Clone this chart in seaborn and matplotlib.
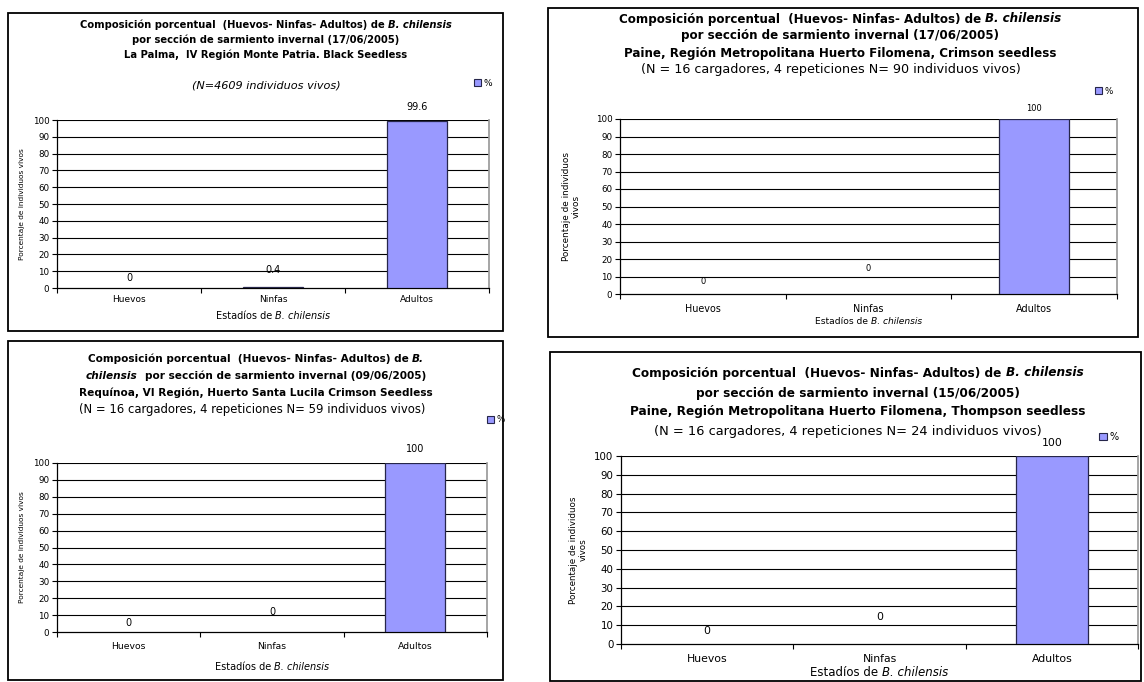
import matplotlib
matplotlib.use("Agg")
import matplotlib.pyplot as plt
import seaborn as sns
import pandas as pd
from matplotlib.patches import Rectangle, Patch

W, H = 1144, 682

# Data: percentage of live individuals per stage
categorias = ["Huevos", "Ninfas", "Adultos"]
la_palma = [0, 0.4, 99.6]
paine_crimson = [0, 0, 100]
requinoa = [0, 0, 100]
paine_thompson = [0, 0, 100]
y_ticks = list(range(0, 101, 10))

BAR = "#9999FF"
EDGE = "#26264a"

sns.set_theme(style="white")
plt.rcParams["font.family"] = ["DejaVu Sans"]
for k in ["text.color", "axes.labelcolor", "xtick.color", "ytick.color", "axes.edgecolor"]:
    plt.rcParams[k] = "black"

fig = plt.figure(figsize=(W / 100, H / 100), dpi=100)
renderer = fig.canvas.get_renderer()


def fx(x):
    return x / W


def fy(y):
    return 1 - y / H


def seg_width(s, size, weight, style):
    a = fig.text(0, 0, "|" + s + "|", fontsize=size, fontweight=weight, fontstyle=style)
    b = fig.text(0, 0, "||", fontsize=size, fontweight=weight, fontstyle=style)
    w = a.get_window_extent(renderer).width - b.get_window_extent(renderer).width
    a.remove()
    b.remove()
    return w


def rich_line(xc, y, parts, size, weight="normal"):
    """Draw one centred line made of (text, italic) pieces."""
    items = []
    total = 0
    for s, it in parts:
        style = "italic" if it else "normal"
        w = seg_width(s, size, weight, style)
        lead = len(s) - len(s.lstrip(" "))
        lead_w = seg_width(" " * lead, size, weight, style) if lead else 0
        items.append((s.strip(" "), style, total + lead_w))
        total += w
    x0 = xc - total / 2
    for s, style, off in items:
        if s:
            fig.text(fx(x0 + off), fy(y), s, fontsize=size, fontweight=weight,
                     fontstyle=style, ha="left", va="center")


def panel(values, box, axbox, titles, tsize, title_x, sub, sub_italic, sub_y, sub_size,
          leg_xy, leg_size, xtick_size, ytick_size, tick_pad, xlab_y, xlab_size,
          ylab_lines, ylab_x, ylab_size, label_offsets, label_size):
    # outer frame
    x0, y0, x1, y1 = box
    fig.add_artist(Rectangle((fx(x0), fy(y1)), (x1 - x0) / W, (y1 - y0) / H,
                             transform=fig.transFigure, fill=False,
                             ec="black", lw=1.3))

    # plot area
    l, r, t, b = axbox
    ax = fig.add_axes([fx(l), fy(b), (r - l) / W, (b - t) / H])
    df = pd.DataFrame({"estadio": categorias, "pct": values})
    sns.barplot(data=df, x="estadio", y="pct", ax=ax, color=BAR, saturation=1,
                width=0.42, edgecolor=EDGE, linewidth=0.9, zorder=3)
    for p in ax.patches:
        if p.get_height() == 0:
            p.set_linewidth(0)
    ax.set_xlim(-0.5, 2.5)
    ax.set_ylim(0, 100)
    ax.set_yticks(y_ticks)
    ax.set_yticklabels([str(v) for v in y_ticks])
    for v in y_ticks[1:]:
        ax.axhline(v, color="black", lw=0.8, zorder=1)
    ax.set_xticks([-0.5, 0.5, 1.5, 2.5], minor=True)
    ax.tick_params(axis="x", which="major", length=0, labelsize=xtick_size, pad=tick_pad)
    ax.tick_params(axis="x", which="minor", bottom=True, length=3.5, width=0.8,
                   direction="out", color="black")
    ax.tick_params(axis="y", left=True, length=3.5, width=0.8, direction="out",
                   labelsize=ytick_size, pad=2)
    ax.set_xlabel("")
    ax.set_ylabel("")
    ax.spines["top"].set_visible(False)
    ax.spines["right"].set_color("#9a9a9a")
    ax.spines["left"].set_linewidth(0.9)
    ax.spines["bottom"].set_linewidth(0.9)
    ax.patch.set_alpha(0)

    # value labels
    for i, (v, off) in enumerate(zip(values, label_offsets)):
        ax.text(i, v + off, f"{v:g}", ha="center", va="center",
                fontsize=label_size, clip_on=False)

    # titles
    for y, parts in titles:
        rich_line(title_x, y, parts, tsize, weight="bold")
    rich_line(sub[1], sub_y, [(sub[0], sub_italic)], sub_size)

    # legend
    fig.legend(handles=[Patch(facecolor=BAR, edgecolor=EDGE, lw=0.8)], labels=["%"],
               loc="center left", bbox_to_anchor=(fx(leg_xy[0]), fy(leg_xy[1])),
               frameon=False, fontsize=leg_size, handlelength=0.8, handleheight=0.8,
               handletextpad=0.3, borderpad=0, borderaxespad=0)

    # axis titles
    rich_line((l + r) / 2, xlab_y, [("Estadíos de ", False), ("B. chilensis", True)], xlab_size)
    fig.text(fx(ylab_x), fy((t + b) / 2), "\n".join(ylab_lines), rotation=90,
             ha="center", va="center", fontsize=ylab_size, linespacing=1.1,
             multialignment="center")
    return ax


head = "Composición porcentual  (Huevos- Ninfas- Adultos) de "
head_full = [(head, False), ("B. chilensis", True)]

panel(la_palma, box=(8, 13, 503, 331), axbox=(57, 489, 120, 288),
      titles=[(25, head_full),
              (40, [("por sección de sarmiento invernal (17/06/2005)", False)]),
              (55, [("La Palma,  IV Región Monte Patria. Black Seedless", False)])],
      tsize=7.2, title_x=266, sub=("(N=4609 individuos vivos)", 266), sub_italic=True,
      sub_y=85, sub_size=8.1, leg_xy=(474, 83), leg_size=6.5, xtick_size=6.5,
      ytick_size=6.3, tick_pad=5, xlab_y=316, xlab_size=7.0,
      ylab_lines=["Porcentaje de individuos vivos"], ylab_x=22, ylab_size=5.3,
      label_offsets=[6, 10.3, 8], label_size=7.0)

panel(paine_crimson, box=(548, 8, 1138, 337), axbox=(620, 1117, 119, 294),
      titles=[(19, head_full),
              (36, [("por sección de sarmiento invernal (17/06/2005)", False)]),
              (53, [("Paine, Región Metropolitana Huerto Filomena, Crimson seedless", False)])],
      tsize=8.6, title_x=840, sub=("(N = 16 cargadores, 4 repeticiones N= 90 individuos vivos)", 831),
      sub_italic=False, sub_y=70, sub_size=9.2, leg_xy=(1095, 91), leg_size=6.3,
      xtick_size=6.9, ytick_size=6.3, tick_pad=7, xlab_y=322, xlab_size=6.6,
      ylab_lines=["Porcentaje de individuos", "vivos"], ylab_x=571, ylab_size=6.4,
      label_offsets=[7.4, 14.8, 6], label_size=6.0)

panel(requinoa, box=(8, 341, 503, 680), axbox=(57, 487, 463, 632),
      titles=[(359, [(head, False), ("B.", True)]),
              (376, [("chilensis", True), ("  por sección de sarmiento invernal (09/06/2005)", False)]),
              (393, [("Requínoa, VI Región, Huerto Santa Lucila Crimson Seedless", False)])],
      tsize=7.6, title_x=256, sub=("(N = 16 cargadores, 4 repeticiones N= 59 individuos vivos)", 252),
      sub_italic=False, sub_y=410, sub_size=8.4, leg_xy=(487, 420), leg_size=6.3,
      xtick_size=6.7, ytick_size=6.3, tick_pad=7, xlab_y=667, xlab_size=7.0,
      ylab_lines=["Porcentaje de individuos vivos"], ylab_x=22, ylab_size=5.3,
      label_offsets=[5.3, 11.8, 8], label_size=7.0)

panel(paine_thompson, box=(550, 352, 1141, 681), axbox=(621, 1138, 456, 644),
      titles=[(373, head_full),
              (393, [("por sección de sarmiento invernal (15/06/2005)", False)]),
              (412, [("Paine, Región Metropolitana Huerto Filomena, Thompson seedless", False)])],
      tsize=8.7, title_x=858, sub=("(N = 16 cargadores, 4 repeticiones N= 24 individuos vivos)", 848),
      sub_italic=False, sub_y=431, sub_size=9.35, leg_xy=(1099, 437), leg_size=7.0,
      xtick_size=7.8, ytick_size=7.4, tick_pad=7, xlab_y=673, xlab_size=8.5,
      ylab_lines=["Porcentaje de individuos", "vivos"], ylab_x=578, ylab_size=6.3,
      label_offsets=[6.9, 14.4, 7], label_size=7.8)

fig.savefig("out.png", dpi=100)
